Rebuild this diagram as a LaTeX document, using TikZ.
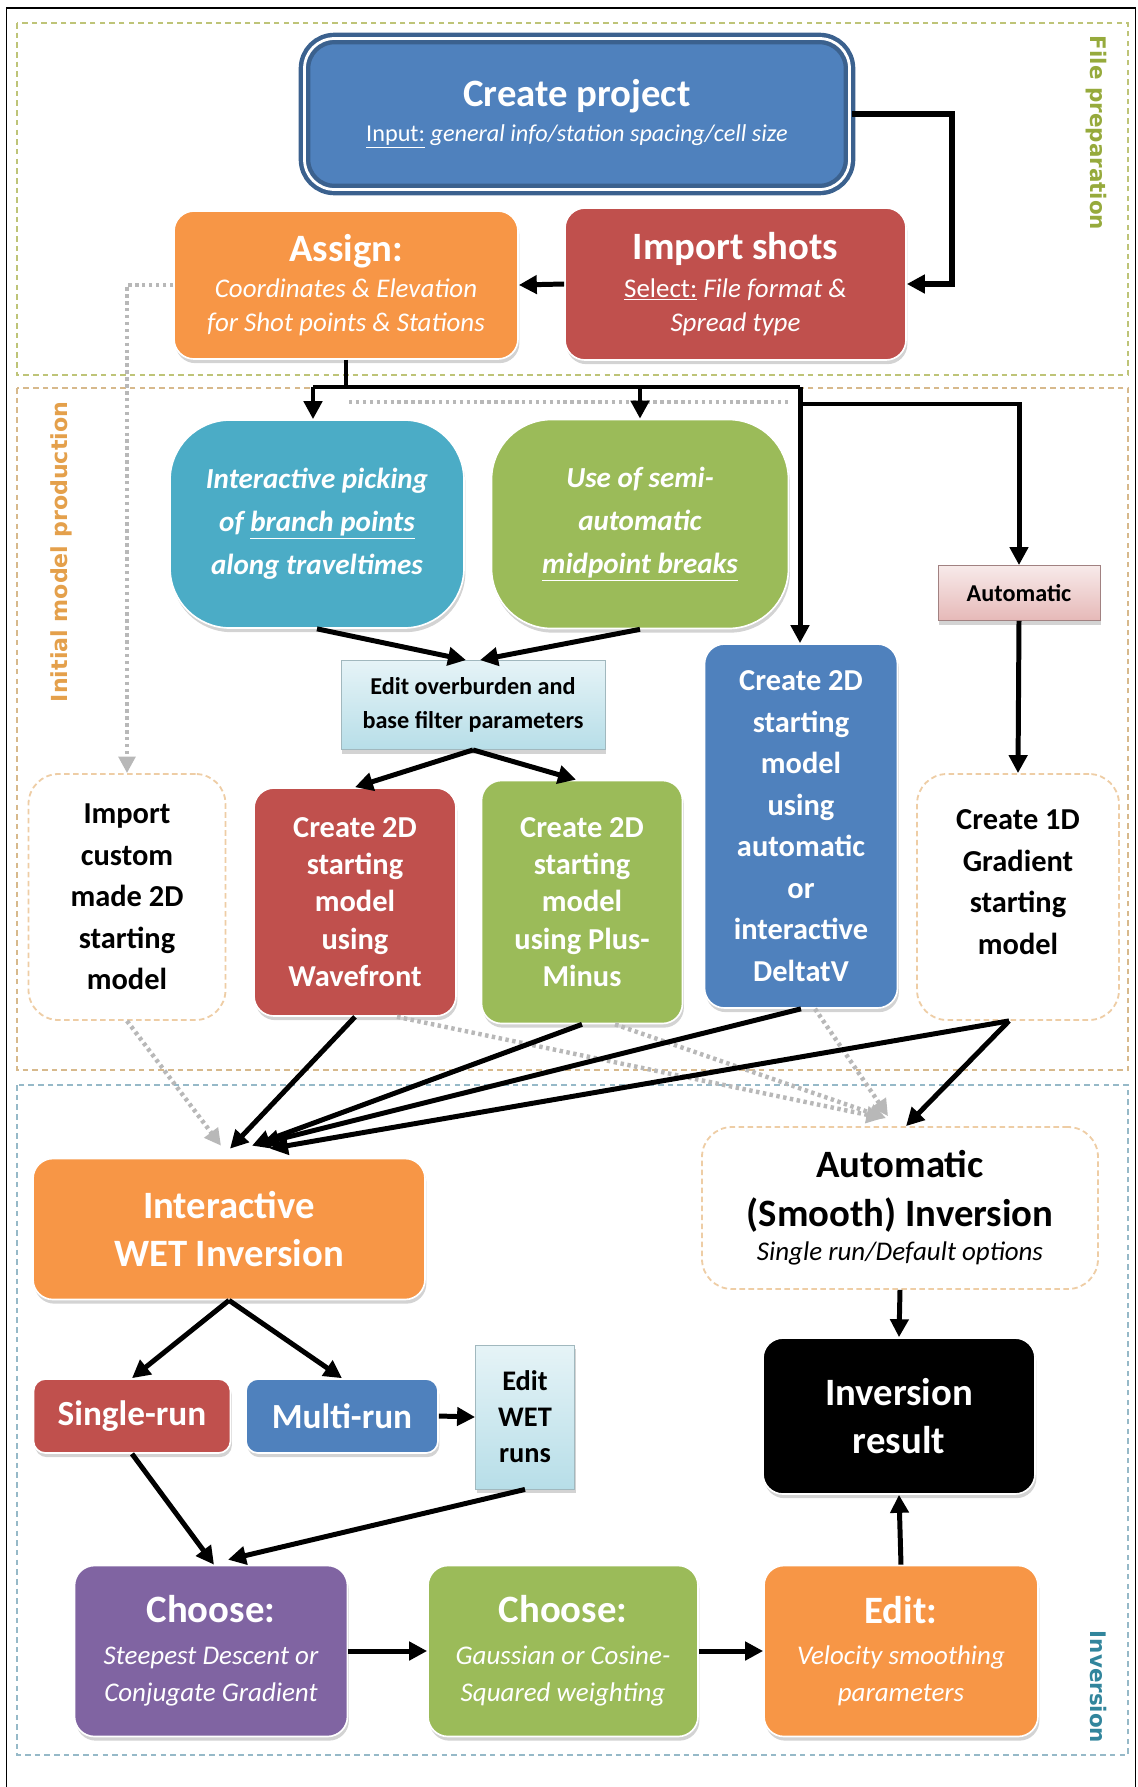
\documentclass[tikz,border=0pt]{standalone}
\usepackage{fontspec}
\setmainfont{Carlito}
\newfontfamily\secfont{DejaVu Sans}
\usetikzlibrary{arrows.meta,shadows}

\definecolor{wfblue}{RGB}{79,129,189}
\definecolor{wfred}{RGB}{192,80,77}
\definecolor{wforange}{RGB}{247,150,70}
\definecolor{wfgreen}{RGB}{155,187,89}
\definecolor{wfaqua}{RGB}{75,172,198}
\definecolor{wfpurple}{RGB}{128,100,162}
\definecolor{wflblue}{RGB}{183,222,232}
\definecolor{wfpink}{RGB}{230,185,184}
\definecolor{wftan}{RGB}{238,205,165}
\definecolor{secfile}{RGB}{190,196,120}
\definecolor{secinit}{RGB}{215,185,140}
\definecolor{secinv}{RGB}{150,185,200}
\definecolor{labfile}{RGB}{150,170,60}
\definecolor{labinit}{RGB}{228,160,75}
\definecolor{labinv}{RGB}{49,133,156}

\newcommand\headtxt{\fontsize{28}{35}\selectfont\bfseries}

\begin{document}
\begin{tikzpicture}[x=1in,y=1in,
  stepbox/.style={rounded corners=0.2in, text=white, align=center, inner sep=0pt,
    draw=white, line width=1.2pt,
    drop shadow={shadow xshift=1pt, shadow yshift=-3pt, opacity=0.35}},
  cpbox/.style={stepbox, rounded corners=0.3in, draw=wfblue!75!black, line width=3.2pt,
    double=white, double distance=2pt},
  plainbox/.style={draw=wftan, line width=1.3pt, dash pattern=on 4pt off 2.5pt,
    fill=white, rounded corners=0.3in, align=center, inner sep=0pt, text=black},
  editbox/.style={draw=wflblue!60!gray, line width=0.6pt, top color=wflblue!35!white,
    bottom color=wflblue, align=center, inner sep=0pt, text=black,
    drop shadow={shadow xshift=1pt, shadow yshift=-3pt, opacity=0.35}},
  notetxt/.style={font=\fontsize{19.5}{24.5}\selectfont},
  modeltxt/.style={font=\fontsize{22}{27}\selectfont\bfseries},
  arr/.style={line width=3.6pt, -{Triangle[length=13pt,width=13pt]}},
  thk/.style={line width=3.6pt},
  gdot/.style={draw=black!28, line width=3.2pt, dash pattern=on 2.5pt off 2.5pt,
    -{Triangle[length=12pt,width=12pt,fill=black!28]}},
  sec/.style={line width=1.5pt, dash pattern=on 4pt off 3pt}
]
\useasboundingbox (0,-17.87) rectangle (11.37,0);
\draw[line width=1.2pt] (0.065,-17.87) |- (11.355,-0.08) -- (11.355,-17.87);

% sections
\draw[sec, secfile] (0.17,-0.23) rectangle (11.28,-3.75);
\draw[sec, secinit] (0.17,-3.88) rectangle (11.28,-10.70);
\draw[sec, secinv] (0.17,-10.85) rectangle (11.28,-17.55);
\node[rotate=-90, text=labfile, font=\secfont\bfseries\fontsize{15.5}{18}\selectfont] (lfile) at (10.96,-1.33) {File preparation};
\node[rotate=90, text=labinit, font=\secfont\bfseries\fontsize{16}{18}\selectfont] (linit) at (0.61,-5.52) {Initial model production};
\node[rotate=-90, text=labinv, font=\secfont\bfseries\fontsize{15.5}{18}\selectfont] (linv) at (10.98,-16.87) {Inversion};

% file preparation
\node[cpbox, fill=wfblue, minimum width=5.45in, minimum height=1.51in, font=\fontsize{17.5}{25}\selectfont] (create) at (5.77,-1.14)
  {{\headtxt Create project}\\{\underline{Input:} \itshape general info/station spacing/cell size}};
\node[stepbox, fill=wfred, minimum width=3.41in, minimum height=1.52in, notetxt] (import) at (7.355,-2.84)
  {{\headtxt Import shots}\\[3pt]{\underline{Select:} \itshape File format \&}\\{\itshape Spread type}};
\node[stepbox, fill=wforange, minimum width=3.44in, minimum height=1.48in, notetxt] (assign) at (3.46,-2.85)
  {{\headtxt Assign:}\\[1pt]{\itshape Coordinates \& Elevation}\\{\itshape for Shot points \& Stations}};

% initial model production
\node[stepbox, fill=wfaqua, rounded corners=0.6in, minimum width=2.94in, minimum height=2.08in,
  font=\fontsize{21}{31}\selectfont\bfseries\itshape] (pick) at (3.17,-5.24)
  {Interactive picking\\of \underline{branch points}\\along traveltimes};
\node[stepbox, fill=wfgreen, rounded corners=0.6in, minimum width=2.97in, minimum height=2.09in,
  font=\fontsize{21}{31}\selectfont\bfseries\itshape] (mid) at (6.40,-5.24)
  {Use of semi-\\automatic\\\underline{midpoint breaks}};
\node[editbox, minimum width=2.64in, minimum height=0.89in, font=\fontsize{17.5}{24}\selectfont\bfseries] (editob) at (4.73,-7.05)
  {Edit overburden and\\base filter parameters};
\node[draw=wfpink!70!black, line width=0.6pt, top color=wfpink!30!white, bottom color=wfpink,
  minimum width=1.62in, minimum height=0.55in, inner sep=0pt, font=\fontsize{17.5}{20}\selectfont\bfseries,
  drop shadow={shadow xshift=1pt, shadow yshift=-3pt, opacity=0.35}] (auto) at (10.19,-5.93) {Automatic};
\node[stepbox, fill=wfblue, minimum width=1.93in, minimum height=3.64in, font=\fontsize{22}{30}\selectfont\bfseries] (deltav) at (8.01,-8.26)
  {Create 2D\\starting\\model\\using\\automatic\\or\\interactive\\DeltatV};
\node[plainbox, minimum width=1.97in, minimum height=2.46in, font=\fontsize{22}{30}\selectfont\bfseries] (custom) at (1.27,-8.97)
  {Import\\custom\\made 2D\\starting\\model};
\node[stepbox, fill=wfred, minimum width=2.02in, minimum height=2.28in, modeltxt] (wave) at (3.55,-9.02)
  {Create 2D\\starting\\model\\using\\Wavefront};
\node[stepbox, fill=wfgreen, minimum width=2.01in, minimum height=2.43in, modeltxt] (pm) at (5.82,-9.02)
  {Create 2D\\starting\\model\\using Plus-\\Minus};
\node[plainbox, minimum width=2.02in, minimum height=2.46in, font=\fontsize{22}{30}\selectfont\bfseries] (oned) at (10.18,-8.97)
  {Create 1D\\Gradient\\starting\\model\\[-0.12in]{}};

% inversion
\node[stepbox, fill=wforange, minimum width=3.92in, minimum height=1.41in, font=\headtxt] (iwet) at (2.29,-12.29)
  {Interactive\\WET Inversion};
\node[plainbox, minimum width=3.96in, minimum height=1.62in, font=\headtxt] (smooth) at (9.00,-12.08)
  {Automatic\\(Smooth) Inversion\\[-10pt]{\fontsize{19.5}{20}\selectfont\mdseries\itshape Single run/Default options}};
\node[stepbox, fill=wfred, rounded corners=0.12in, minimum width=1.97in, minimum height=0.74in,
  font=\fontsize{25.5}{28}\selectfont\bfseries] (single) at (1.32,-14.16) {Single-run};
\node[stepbox, fill=wfblue, rounded corners=0.12in, minimum width=1.92in, minimum height=0.74in,
  font=\fontsize{25.5}{28}\selectfont\bfseries] (multi) at (3.42,-14.16) {Multi-run};
\node[editbox, minimum width=0.99in, minimum height=1.44in, font=\fontsize{20.5}{26}\selectfont\bfseries] (editwet) at (5.25,-14.17)
  {Edit\\WET\\runs};
\node[stepbox, fill=black, draw=white, minimum width=2.72in, minimum height=1.56in, font=\headtxt] (invres) at (8.99,-14.16)
  {Inversion\\result};
\node[stepbox, fill=wfpurple, minimum width=2.73in, minimum height=1.71in, notetxt, font=\fontsize{19.5}{27}\selectfont] (chooseA) at (2.11,-16.51)
  {{\headtxt Choose:}\\[3pt]{\itshape Steepest Descent or}\\{\itshape Conjugate Gradient}};
\node[stepbox, fill=wfgreen, minimum width=2.70in, minimum height=1.71in, font=\fontsize{19.5}{27}\selectfont] (chooseB) at (5.63,-16.51)
  {{\headtxt Choose:}\\[3pt]{\itshape Gaussian or Cosine-}\\{\itshape Squared weighting}};
\node[stepbox, fill=wforange, minimum width=2.74in, minimum height=1.71in, font=\fontsize{19.5}{27}\selectfont] (editsm) at (9.01,-16.51)
  {{\headtxt Edit:}\\[3pt]{\itshape Velocity smoothing}\\{\itshape parameters}};

% connectors, top
\coordinate (jl) at (3.13,-3.87);
\coordinate (jr) at (8.00,-3.87);
\coordinate (jq) at (8.00,-4.04);
\coordinate (dl) at (3.49,-4.02);
\coordinate (dr) at (7.90,-4.02);
\draw[arr, line width=4.2pt] (create.east) -| ([xshift=0.45in]import.east) -- (import.east);
\draw[arr] (import.west) -- (assign.east);
\draw[gdot] (assign.west) -| (custom.north);
\draw[draw=black!28, line width=3.2pt, dash pattern=on 2.5pt off 2.5pt] (dl) -- (dr);
\draw[thk] (assign.south) -- (assign.south |- jl);
\draw[thk] (jl) -- (jr);
\draw[arr] (jl) -- (jl |- pick.north);
\draw[arr] (mid.north |- jl) -- (mid.north);
\draw[arr] (jr) -- (jr |- deltav.north);
\draw[arr] (jq) -| (auto.north);
\draw[arr] (pick.south) -- ([xshift=-0.07in]editob.north);
\draw[arr] (mid.south) -- ([xshift=0.07in]editob.north);
\draw[arr] (editob.south) -- (wave.north);
\draw[arr] (editob.south) -- ([xshift=-0.06in]pm.north);
\draw[arr] (auto.south) -- (oned.north);

% connectors, down to inversion
\draw[gdot] (custom.south) -- ([xshift=-0.08in,yshift=0.12in]iwet.north);
\draw[gdot] ([xshift=0.42in]wave.south) -- ([xshift=-0.17in,yshift=0.08in]smooth.north);
\draw[gdot] ([xshift=0.33in]pm.south) -- ([xshift=-0.14in,yshift=0.08in]smooth.north);
\draw[gdot] ([xshift=0.14in]deltav.south) -- ([xshift=-0.12in,yshift=0.1in]smooth.north);
\draw[arr] (wave.south) -- ([xshift=0.01in,yshift=0.09in]iwet.north);
\draw[arr] (pm.south) -- ([xshift=0.23in,yshift=0.12in]iwet.north);
\draw[arr] (deltav.south) -- ([xshift=0.32in,yshift=0.14in]iwet.north);
\draw[arr] ([xshift=-0.09in]oned.south) -- ([xshift=0.41in,yshift=0.09in]iwet.north);
\draw[arr] ([xshift=-0.09in]oned.south) -- ([xshift=0.06in]smooth.north);

% connectors, inversion
\draw[arr] (smooth.south) -- (invres.north);
\draw[arr] (iwet.south) -- (single.north);
\draw[arr] (iwet.south) -- (multi.north);
\draw[arr] (multi.east) -- (editwet.west);
\draw[arr] (single.south) -- ([xshift=0.03in]chooseA.north);
\draw[arr] (editwet.south) -- ([xshift=0.17in,yshift=0.05in]chooseA.north);
\draw[arr] (chooseA.east) -- (chooseB.west);
\draw[arr] (chooseB.east) -- (editsm.west);
\draw[arr] (editsm.north) -- (invres.south);
\end{tikzpicture}
\end{document}
